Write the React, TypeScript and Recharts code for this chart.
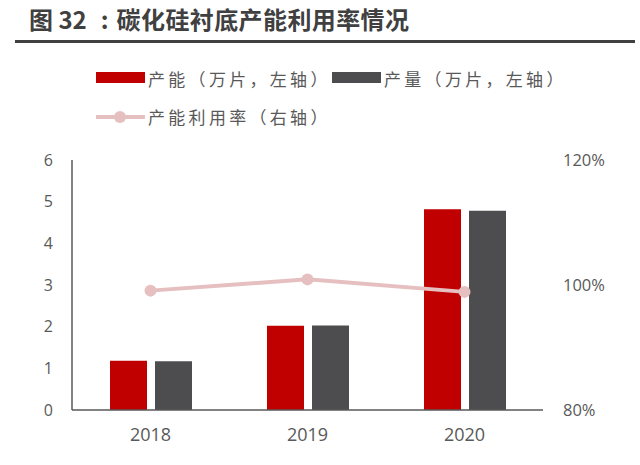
import React from 'react';
import { ComposedChart, Bar, Line, XAxis, YAxis } from 'recharts';

const years = ['2018', '2019', '2020'];
const capacity = [1.18, 2.02, 4.82];
const output = [1.17, 2.03, 4.78];
const utilization = [0.991, 1.009, 0.989];
const leftTicks = [0, 1, 2, 3, 4, 5, 6];
const rightTicks = [0.8, 1.0, 1.2];

const titlePrefix = '图 32';
const titleBody = '碳化硅衬底产能利用率情况';
const seriesNames = ['产能（万片，左轴）', '产量（万片，左轴）', '产能利用率（右轴）'];

const RED = '#C00000';
const GREY = '#4D4D4F';
const PINK = '#E6BFC0';
const TEXT = '#595959';

const data = years.map((y, i) => ({
  year: y,
  capacity: capacity[i],
  output: output[i],
  utilization: utilization[i],
}));

const cjk = '"Noto Sans CJK SC", "Noto Sans", sans-serif';
const num = '"Open Sans", "Noto Sans", sans-serif';

const legendText: React.CSSProperties = {
  position: 'absolute', fontFamily: cjk, fontSize: 17, lineHeight: '20px',
  letterSpacing: 3.3, color: TEXT, whiteSpace: 'nowrap',
};

export default function App() {
  return (
    <div style={{ position: 'absolute', left: 0, top: 0, width: 640, height: 465, background: '#fff', overflow: 'hidden' }}>
      <ComposedChart
        width={640}
        height={465}
        data={data}
        margin={{ top: 160, right: 7, bottom: 0, left: 12 }}
        barGap={8}
      >
        <XAxis
          dataKey="year"
          height={55}
          tickLine={false}
          tickSize={0}
          tickMargin={18}
          axisLine={{ stroke: '#595959', strokeWidth: 1.5 }}
          tick={{ fill: TEXT, fontSize: 18, fontFamily: num }}
        />
        <YAxis
          yAxisId="left"
          width={60}
          domain={[0, 6]}
          ticks={leftTicks}
          interval={0}
          tickLine={false}
          tickSize={0}
          tickMargin={19}
          axisLine={{ stroke: '#595959', strokeWidth: 1.5 }}
          tick={{ fill: TEXT, fontSize: 16, fontFamily: num }}
        />
        <YAxis
          yAxisId="right"
          orientation="right"
          width={90}
          domain={[0.8, 1.2]}
          ticks={rightTicks}
          interval={0}
          tickLine={false}
          tickSize={0}
          tickMargin={20}
          axisLine={false}
          tickFormatter={(v: number) => `${Math.round(v * 100)}%`}
          tick={{ fill: TEXT, fontSize: 16.5, fontFamily: num }}
        />
        <Bar yAxisId="left" dataKey="capacity" name={seriesNames[0]} fill={RED} barSize={37} isAnimationActive={false} />
        <Bar yAxisId="left" dataKey="output" name={seriesNames[1]} fill={GREY} barSize={37} isAnimationActive={false} />
        <Line
          yAxisId="right"
          dataKey="utilization"
          name={seriesNames[2]}
          stroke={PINK}
          strokeWidth={4}
          dot={{ r: 6, fill: PINK, stroke: PINK, strokeWidth: 0 }}
          activeDot={false}
          isAnimationActive={false}
        />
      </ComposedChart>

      <div
        style={{
          position: 'absolute', left: 29, top: 6, fontFamily: cjk, fontWeight: 700,
          fontSize: 24, lineHeight: '26px', color: '#404040', whiteSpace: 'nowrap',
        }}
      >
        <span>{titlePrefix}</span>
        <span style={{ marginLeft: 14, marginRight: 8 }}>:</span>
        <span style={{ letterSpacing: 0.4 }}>{titleBody}</span>
      </div>
      <div style={{ position: 'absolute', left: 15, top: 40, width: 620, height: 3, background: '#404040' }} />

      <div style={{ position: 'absolute', left: 96, top: 72, width: 49, height: 11, background: RED }} />
      <div style={{ ...legendText, left: 148, top: 69 }}>{seriesNames[0]}</div>
      <div style={{ position: 'absolute', left: 332, top: 72, width: 49, height: 11, background: GREY }} />
      <div style={{ ...legendText, left: 384, top: 69 }}>{seriesNames[1]}</div>
      <div style={{ position: 'absolute', left: 96, top: 115, width: 49, height: 4, background: PINK }} />
      <div style={{ position: 'absolute', left: 114, top: 111, width: 12, height: 12, borderRadius: 6, background: PINK }} />
      <div style={{ ...legendText, left: 148, top: 107 }}>{seriesNames[2]}</div>
    </div>
  );
}
